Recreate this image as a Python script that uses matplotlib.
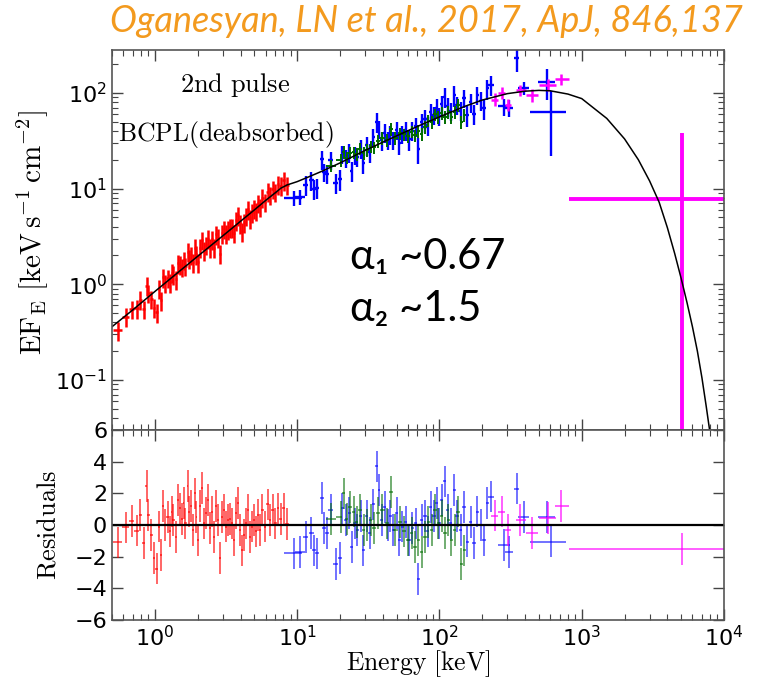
import numpy as np
import matplotlib
matplotlib.use("Agg")
import matplotlib.pyplot as plt

# --- data (energy in keV, EF_E in keV s^-1 cm^-2) ---
red_E = [0.547, 0.625, 0.686, 0.747, 0.79, 0.833, 0.874, 0.9, 0.937, 0.99,
         1.03, 1.07, 1.11, 1.15, 1.18, 1.23, 1.27, 1.31, 1.35, 1.40,
         1.46, 1.50, 1.54, 1.59, 1.64, 1.70, 1.74, 1.79, 1.85, 1.91,
         1.96, 2.02, 2.08, 2.15, 2.22, 2.29, 2.37, 2.45, 2.53, 2.61,
         2.70, 2.79, 2.88, 2.97, 3.07, 3.17, 3.27, 3.38, 3.49, 3.61,
         3.73, 3.85, 3.98, 4.10, 4.24, 4.38, 4.52, 4.67, 4.82, 4.98,
         5.14, 5.31, 5.49, 5.70, 5.93, 6.19, 6.46, 6.74, 7.04, 7.35,
         7.68, 8.02, 8.55]
red_F = [0.33, 0.46, 0.55, 0.56, 0.69, 0.55, 0.97, 0.81, 0.70, 0.57,
         0.51, 0.90, 0.68, 1.18, 1.03, 1.16, 1.05, 1.32, 1.26, 1.13,
         1.65, 1.60, 1.51, 1.79, 1.56, 2.19, 1.86, 2.02, 1.70, 2.41,
         2.05, 1.70, 2.42, 2.89, 2.25, 2.57, 2.99, 2.43, 2.94, 2.41,
         3.33, 3.07, 2.09, 3.41, 3.77, 3.38, 3.72, 3.93, 3.92, 3.45,
         4.66, 5.26, 4.33, 3.57, 4.42, 5.17, 6.04, 4.89, 5.63, 6.22,
         5.82, 7.07, 6.41, 8.02, 7.26, 9.28, 8.55, 9.85, 9.23, 11.1,
         10.7, 12.2, 10.9]
red_res = [-1.1, -0.15, 0.25, -0.35, 0.65, -1.15, 2.45, 0.65, -0.65, -2.1,
           -2.75, -0.1, -1.9, 1.2, 0.0, 0.5, -0.4, 0.85, 0.3, -0.75,
           1.6, 1.05, 0.4, 1.4, 0.1, 2.45, 0.85, 1.2, -0.3, 2.0,
           0.5, -0.95, 1.2, 2.35, 0.1, 0.75, 1.6, -0.2, 0.85, -0.75,
           1.2, 0.3, -2.1, 0.5, 0.95, -0.1, 0.3, 0.4, 0.1, -0.95,
           0.75, 1.4, -0.3, -1.6, -0.65, 0.1, 0.95, -0.75, -0.1, 0.3,
           -0.4, 0.65, -0.3, 0.95, -0.1, 1.3, 0.3, 0.95, 0.1, 1.05,
           0.4, 1.05, 0.05]
red_rel_err = 0.22

blue_E = [9.5, 10.5, 11.5, 12.6, 13.2, 13.9, 14.9, 15.5, 16.2, 17.2,
          18.7, 20.0, 20.8, 21.9, 23.2, 24.2, 25.4, 26.5, 27.9, 29.2,
          30.8, 32.5, 34.3, 36.2, 37.7, 39.2, 41.3, 43.2, 45.0, 47.5,
          50.0, 52.2, 54.8, 57.8, 61.1, 64.5, 68.2, 70.9, 75.0, 79.2,
          82.9, 86.7, 91.6, 96.0, 99.8, 104, 108.6, 114.3, 120, 127,
          133, 141, 149, 157, 166, 175, 185, 195, 206, 217,
          230, 284, 309, 350, 394, 574, 606]
blue_dE = [1.4, 0.8, 0.5, 0.45, 0.4, 0.45, 0.5, 0.5, 0.5, 0.6,
           0.7, 0.6, 0.5, 0.6, 0.6, 0.6, 0.6, 0.6, 0.7, 0.7,
           0.8, 0.8, 0.9, 0.9, 0.8, 0.9, 1.0, 1.0, 1.1, 1.2,
           1.2, 1.2, 1.4, 1.5, 1.6, 1.7, 1.8, 1.8, 2.0, 2.0,
           2.0, 2.2, 2.4, 2.4, 2.4, 2.6, 2.8, 3.0, 3.0, 3.4,
           3.4, 4.0, 4.0, 4.0, 4.5, 4.5, 5.0, 5.0, 5.5, 6.0,
           10, 28, 22, 15, 35, 80, 170]
blue_F = [8.0, 8.2, 10.9, 12.2, 10.0, 10.2, 20.2, 14.9, 14.3, 19.8,
          11.5, 12.5, 23.0, 20.9, 23.7, 15.3, 22.5, 21.4, 26.3, 18.5,
          28.2, 23.8, 34.5, 50, 42, 31.9, 38.4, 32.1, 36.6, 32.2,
          40.8, 29.6, 37.0, 40.6, 32.8, 40.3, 44.6, 26, 49.3, 53.6,
          45.6, 62.7, 58.8, 69.9, 57.1, 75.8, 91, 72.4, 64.3, 93.9,
          74.4, 65.2, 88.2, 58.3, 79.2, 60.4, 94.5, 83.0, 68.9, 111,
          121, 72, 70, 230, 112, 130, 63]
blue_rel_err = [0.18, 0.18, 0.24, 0.22, 0.24, 0.24, 0.22, 0.22, 0.22, 0.22,
                0.24, 0.24, 0.22, 0.22, 0.22, 0.24, 0.22, 0.22, 0.22, 0.24,
                0.22, 0.22, 0.22, 0.24, 0.22, 0.22, 0.22, 0.22, 0.22, 0.22,
                0.22, 0.24, 0.22, 0.22, 0.24, 0.22, 0.22, 0.3, 0.22, 0.22,
                0.22, 0.22, 0.22, 0.22, 0.22, 0.22, 0.24, 0.22, 0.22, 0.24,
                0.22, 0.22, 0.22, 0.24, 0.22, 0.24, 0.22, 0.22, 0.24, 0.24,
                0.24, 0.2, 0.2, 0.28, 0.15, 0.35, 0.65]
blue_res = [-1.8, -1.7, -0.75, -0.5, -1.6, -1.8, 1.7, -0.2, -0.5, 0.95,
            -2.45, -2.1, 1.05, 0.3, 0.75, -1.4, 0.1, -0.3, 0.55, -1.6,
            0.55, -0.5, 1.3, 3.7, 2.2, 0.3, 1.15, 0.0, 0.55, -0.3,
            0.75, -0.95, -0.1, 0.2, -0.95, -0.2, 0.1, -3.4, 0.3, 0.55,
            -0.4, 1.15, 0.55, 1.4, 0.1, 1.6, 2.75, 0.95, 0.1, 2.2,
            0.55, -0.3, 1.15, -1.05, 0.2, -1.15, 0.85, 0.0, -0.95, 1.4,
            1.8, -1.27, -1.7, 2.3, 0.5, 0.5, -1.05]

green_E = [17.2, 20.3, 21.2, 22.3, 23.5, 24.9, 26.2, 27.8, 29.3, 30.8,
           32.9, 34.7, 36.9, 39.8, 42.6, 45.8, 49.1, 52.6, 56.5, 60.1,
           63.8, 67.2, 70.9, 75.0, 79.2, 83.7, 88.3, 92.9, 98, 104,
           109.5, 115, 121, 128, 135, 142, 150]
green_F = [17.4, 19.8, 23.9, 21.0, 23.7, 23.8, 22.9, 26.1, 23.6, 25.4,
           27.6, 26.9, 31.4, 33.9, 32.2, 41.7, 33.7, 37.6, 36.7, 35.4,
           39.2, 35.9, 39.8, 37.0, 44.0, 51.2, 49.8, 59.5, 56.0, 61.2,
           55.6, 63.2, 56.1, 63.1, 74.5, 49.2, 58.2]
green_res = [0.4, 0.5, 2.0, 0.4, 1.15, 0.85, 0.2, 0.95, -0.3, 0.0,
             0.3, -0.2, 0.75, 0.95, 0.1, 2.1, -0.3, 0.2, -0.4, -0.95,
             -0.5, -1.4, -0.95, -1.7, -0.75, 0.2, -0.3, 0.95, 0.1, 0.55,
             -0.5, 0.3, -0.95, -0.3, 0.85, -2.45, -1.6]
green_rel_err = 0.15

mag_E = [245, 275, 305, 370, 450, 575, 720, 5100]
mag_E_lo = [230, 260, 290, 345, 405, 500, 645, 820]
mag_E_hi = [260, 290, 320, 405, 490, 660, 810, 10000]
mag_F = [85, 100, 75, 107, 95, 122, 140, 7.8]
mag_F_lo = [72, 86, 64, 93, 81, 104, 121, 0.001]
mag_F_hi = [99, 114, 87, 121, 109, 140, 159, 38]
mag_res = [0.6, 0.85, -0.3, 0.3, -0.5, 0.45, 1.2, -1.5]

model_E = [0.5, 0.7, 1, 1.5, 2, 3, 4, 5, 6, 7, 7.7, 8.5, 10, 12, 15, 20, 25,
           30, 40, 50, 70, 100, 150, 200, 300, 400, 500, 600, 800, 1000,
           1500, 2000, 2500, 3000, 3500, 4000, 4500, 5000, 5500, 6000,
           6500, 7000, 7500, 8000, 8500]
model_F = [0.36, 0.54, 0.84, 1.38, 1.96, 3.2, 4.55, 5.97, 7.5, 9.0, 10.1,
           10.9, 11.8, 13.2, 15.2, 18.5, 21.8, 25, 30.5, 35.5, 44.5, 56,
           72, 84, 98, 104, 106, 105, 97, 87, 54, 33, 20, 12, 7.2, 3.9,
           2.1, 1.15, 0.64, 0.36, 0.2, 0.105, 0.053, 0.027, 0.013]


def bin_halfwidths(E):
    # contiguous channels: edges half way (in log) between neighbouring centres
    E = np.asarray(E, float)
    mids = np.sqrt(E[:-1] * E[1:])
    lo = np.concatenate([[E[0] ** 2 / mids[0]], mids])
    hi = np.concatenate([mids, [E[-1] ** 2 / mids[-1]]])
    return np.vstack([E - lo, hi - E])


red_xerr = bin_halfwidths(red_E)
green_xerr = bin_halfwidths(green_E)
red_ferr = red_rel_err * np.array(red_F)
green_ferr = green_rel_err * np.array(green_F)
blue_ferr = np.array(blue_rel_err) * np.array(blue_F)
mag_xerr = np.vstack([np.array(mag_E) - mag_E_lo, np.array(mag_E_hi) - mag_E])
mag_ferr = np.vstack([np.array(mag_F) - mag_F_lo, np.array(mag_F_hi) - mag_F])

RED, BLUE, GREEN, MAG = "#ff0000", "#0000ff", "#006d00", "#ff00ff"

fig = plt.figure(figsize=(7.79, 6.84), dpi=100)
ax1 = fig.add_axes([0.1438, 0.3713, 0.7856, 0.5556])
ax2 = fig.add_axes([0.1438, 0.0936, 0.7856, 0.2777])

# top panel: unfolded spectrum
ax1.errorbar(red_E, red_F, xerr=red_xerr, yerr=red_ferr, fmt="none",
             ecolor=RED, elinewidth=1.8)
ax1.errorbar(blue_E, blue_F, xerr=blue_dE, yerr=blue_ferr, fmt="none",
             ecolor=BLUE, elinewidth=1.7)
ax1.errorbar(green_E, green_F, xerr=green_xerr, yerr=green_ferr, fmt="none",
             ecolor=GREEN, elinewidth=1.4)
ax1.errorbar(mag_E[:-1], mag_F[:-1], xerr=mag_xerr[:, :-1], yerr=mag_ferr[:, :-1],
             fmt="none", ecolor=MAG, elinewidth=1.8)
ax1.errorbar(mag_E[-1:], mag_F[-1:], xerr=mag_xerr[:, -1:], yerr=mag_ferr[:, -1:],
             fmt="none", ecolor=MAG, elinewidth=2.8)
ax1.plot(model_E, model_F, color="black", lw=1.1)

ax1.set_xscale("log")
ax1.set_yscale("log")
ax1.set_xlim(0.5, 1e4)
ax1.set_ylim(0.03, 280)
ax1.tick_params(labelbottom=False)

# bottom panel: residuals
ax2.errorbar(red_E, red_res, xerr=red_xerr, yerr=1, fmt="none",
             ecolor=RED, elinewidth=1.2, alpha=0.7)
ax2.errorbar(blue_E, blue_res, xerr=blue_dE, yerr=1, fmt="none",
             ecolor=BLUE, elinewidth=1.2, alpha=0.65)
ax2.errorbar(green_E, green_res, xerr=green_xerr, yerr=1, fmt="none",
             ecolor=GREEN, elinewidth=1.2, alpha=0.65)
ax2.errorbar(mag_E, mag_res, xerr=mag_xerr, yerr=1, fmt="none",
             ecolor=MAG, elinewidth=1.1, alpha=0.8)
ax2.axhline(0, color="black", lw=1.6)
ax2.set_xscale("log")
ax2.set_xlim(0.5, 1e4)
ax2.set_ylim(-6, 6)
ax2.set_yticks([-6, -4, -2, 0, 2, 4, 6])

for ax in (ax1, ax2):
    ax.tick_params(which="both", direction="in", top=True, right=True,
                   labelsize=16, color="#444444")
    ax.tick_params(which="major", length=8, width=1)
    ax.tick_params(which="minor", length=4, width=0.8)
    for s in ax.spines.values():
        s.set_color("#555555")
        s.set_linewidth(1.2)

ax1.set_ylabel(r"$\mathrm{EF_E\ [keV\,s^{-1}\,cm^{-2}]}$", fontsize=21,
               math_fontfamily="cm")
ax1.yaxis.set_label_coords(-0.1, 0.52)
ax2.set_ylabel(r"$\mathrm{Residuals}$", fontsize=19, math_fontfamily="cm")
ax2.yaxis.set_label_coords(-0.083, 0.5)
ax2.set_xlabel(r"$\mathrm{Energy\ [keV]}$", fontsize=18.5, math_fontfamily="cm")
ax2.xaxis.set_label_coords(0.5, -0.15)

fig.text(0.3017, 0.876, r"$\mathrm{2nd\ pulse}$", fontsize=19,
         math_fontfamily="cm", ha="center", va="center")
fig.text(0.1515, 0.803, r"$\mathrm{BCPL(deabsorbed)}$", fontsize=18.5,
         math_fontfamily="cm", ha="left", va="center")

fig.text(0.449, 0.624, "α₁ ~0.67", fontsize=30, family=["Lato", "DejaVu Sans"],
         ha="left", va="center")
fig.text(0.449, 0.548, "α₂ ~1.5", fontsize=30, family=["Lato", "DejaVu Sans"],
         ha="left", va="center")

fig.text(0.547, 0.968, "Oganesyan, LN et al., 2017, ApJ, 846,137", fontsize=26,
         style="italic", color="#f39a1e", family=["Lato", "DejaVu Sans"],
         ha="center", va="center")

fig.savefig("out.png", dpi=100)
